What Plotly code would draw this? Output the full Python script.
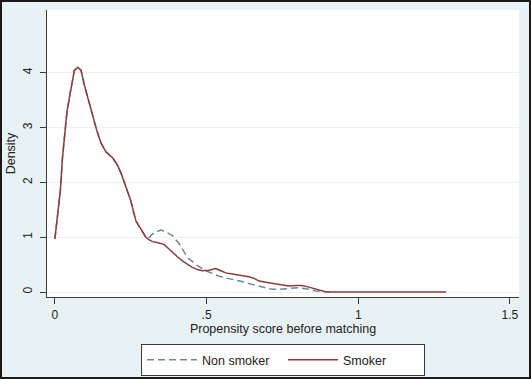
import plotly.graph_objects as go

# ---- data ----
smoker_x = [0, 0.01, 0.018, 0.025, 0.032, 0.04, 0.048, 0.056, 0.064, 0.075, 0.086, 0.097,
            0.11, 0.124, 0.138, 0.152, 0.168, 0.19, 0.205, 0.218, 0.232, 0.25, 0.267, 0.278,
            0.289, 0.30, 0.311, 0.322, 0.333, 0.349, 0.36, 0.377, 0.388, 0.405, 0.42, 0.437,
            0.453, 0.47, 0.486, 0.508, 0.53, 0.547, 0.563, 0.585, 0.607, 0.625, 0.64, 0.657,
            0.673, 0.695, 0.716, 0.745, 0.771, 0.795, 0.815, 0.837, 0.855, 0.87, 0.892, 0.92,
            1.0, 1.1, 1.2, 1.29]
smoker_y = [0.97, 1.45, 1.85, 2.45, 2.9, 3.3, 3.55, 3.8, 4.04, 4.1, 4.05, 3.78,
            3.5, 3.2, 2.95, 2.72, 2.56, 2.45, 2.33, 2.17, 1.95, 1.67, 1.30, 1.2,
            1.09, 1.0, 0.95, 0.92, 0.91, 0.89, 0.87, 0.78, 0.72, 0.64, 0.57, 0.50,
            0.45, 0.41, 0.39, 0.40, 0.43, 0.39, 0.35, 0.33, 0.31, 0.29, 0.28, 0.25,
            0.20, 0.18, 0.16, 0.13, 0.11, 0.12, 0.12, 0.09, 0.06, 0.03, 0.005, 0,
            0, 0, 0, 0]

nonsmoker_x = [0, 0.01, 0.018, 0.025, 0.032, 0.04, 0.048, 0.056, 0.064, 0.075, 0.086, 0.097,
               0.11, 0.124, 0.138, 0.152, 0.168, 0.19, 0.205, 0.218, 0.232, 0.25, 0.267, 0.278,
               0.289, 0.30, 0.311, 0.322, 0.335, 0.349, 0.365, 0.388, 0.41, 0.437, 0.455, 0.47,
               0.497, 0.52, 0.541, 0.57, 0.596, 0.625, 0.65, 0.68, 0.716, 0.74, 0.76, 0.78,
               0.804, 0.837, 0.86, 0.89, 0.92]
nonsmoker_y = [0.97, 1.45, 1.85, 2.45, 2.9, 3.3, 3.55, 3.8, 4.04, 4.1, 4.05, 3.78,
               3.5, 3.2, 2.95, 2.72, 2.56, 2.45, 2.33, 2.17, 1.95, 1.67, 1.30, 1.2,
               1.09, 0.99, 1.0, 1.06, 1.1, 1.13, 1.1, 1.03, 0.88, 0.63, 0.55, 0.48,
               0.39, 0.33, 0.29, 0.25, 0.22, 0.18, 0.14, 0.10, 0.05, 0.05, 0.06, 0.07,
               0.08, 0.05, 0.02, 0.005, 0]

x_tickvals = [0, 0.5, 1, 1.5]
x_ticktext = ["0", ".5", "1", "1.5"]
y_tickvals = [0, 1, 2, 3, 4]
y_ticktext = ["0", "1", "2", "3", "4"]

W, H = 531, 379
ML, MR, MT, MB = 47, 12, 10, 82
PW, PH = W - ML - MR, H - MT - MB

BG = "#E8F1F4"
AX = "#3a3a3a"
FONT = "Liberation Sans, Arial, sans-serif"

fig = go.Figure()
fig.add_trace(go.Scatter(x=nonsmoker_x, y=nonsmoker_y, mode="lines", name="Non smoker",
                         line=dict(color="#6D879B", width=1.5, dash="7px,4px")))
fig.add_trace(go.Scatter(x=smoker_x, y=smoker_y, mode="lines", name="Smoker",
                         line=dict(color="#8E3B3B", width=1.5)))

fig.update_layout(
    width=W, height=H,
    margin=dict(l=ML, r=MR, t=MT, b=MB, pad=0, autoexpand=False),
    paper_bgcolor=BG, plot_bgcolor="white",
    font=dict(family=FONT, size=12, color="#222"),
    showlegend=True,
    legend=dict(orientation="h", x=0.5, xanchor="center", y=-47 / PH, yanchor="top",
                bgcolor="white", bordercolor=AX, borderwidth=1,
                font=dict(size=12.5, color="#222"), entrywidth=76, itemwidth=50),
    xaxis=dict(range=[-0.026, 1.53], tickvals=x_tickvals, ticktext=x_ticktext,
               showline=True, linecolor=AX, linewidth=1.2, ticks="outside", ticklen=6,
               tickcolor=AX, showgrid=False, zeroline=False,
               title=dict(text="Propensity score before matching", standoff=0,
                          font=dict(size=12.5))),
    yaxis=dict(range=[-0.09, 5.146], tickvals=y_tickvals, ticktext=y_ticktext,
               tickangle=-90, ticklabelstandoff=3,
               showline=True, linecolor=AX, linewidth=1.2, ticks="outside", ticklen=6,
               tickcolor=AX, showgrid=True, gridcolor="#EAF2F3", gridwidth=1.2,
               zeroline=False,
               title=dict(text="Density", standoff=2, font=dict(size=12.5))),
    shapes=[dict(type="rect", xref="paper", yref="paper",
                 x0=-(ML - 1) / PW, x1=1 + (MR - 1) / PW,
                 y0=-(MB - 1) / PH, y1=1 + (MT - 1) / PH,
                 line=dict(color="#1a1a1a", width=2), fillcolor="rgba(0,0,0,0)",
                 layer="above")],
)

fig.write_html("out.html", config={"displayModeBar": False},
               post_script="document.body.style.margin='0';document.body.style.padding='0';")
